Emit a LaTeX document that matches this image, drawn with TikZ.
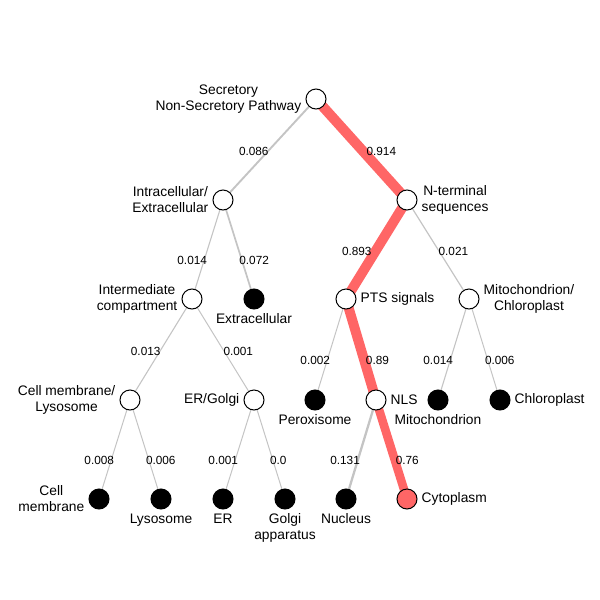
\documentclass[tikz,border=0pt]{standalone}
\usepackage{fontspec}
\setmainfont{Liberation Sans}
\usetikzlibrary{backgrounds}

\definecolor{pathred}{RGB}{255,102,102}
\definecolor{edgegrey}{RGB}{196,196,196}

\tikzset{
  state/.style={circle, draw, line width=1pt, minimum size=20pt, inner sep=0pt, fill=white},
  leaf/.style={state, fill=black},
  hit/.style={state, fill=pathred},
  every label/.style={font=\fontsize{13.8}{16}\selectfont, align=center, inner sep=0pt},
  prob/.style={font=\fontsize{11.8}{14}\selectfont, inner sep=0pt, yshift=-2pt},
  pl/.style={prob, anchor=east},
  pr/.style={prob, anchor=west},
  low/.style={yshift=-9pt},
  weak/.style={draw=edgegrey, line width=#1},
  strong/.style={draw=pathred, line width=#1}
}

\begin{document}
\begin{tikzpicture}[x=1pt, y=-1pt, label distance=4pt]
  \useasboundingbox (0,0) rectangle (600,600);

  \node[state, label=left:{Secretory\\Non-Secretory Pathway}] (root) at (316,99) {};
  \node[state, label=left:{Intracellular/\\Extracellular}] (intra) at (223,200) {};
  \node[state, label=right:{N-terminal\\sequences}] (nterm) at (407,200) {};
  \node[state, label=left:{Intermediate\\compartment}] (inter) at (192,299) {};
  \node[leaf, label=below:Extracellular] (extra) at (254,299) {};
  \node[state, label=right:PTS signals] (pts) at (346,299) {};
  \node[state, label=right:{Mitochondrion/\\Chloroplast}] (mitochl) at (469,299) {};
  \node[state, label=left:{Cell membrane/\\Lysosome}] (cellly) at (130,400) {};
  \node[state, label=left:ER/Golgi] (ergolgi) at (254,400) {};
  \node[leaf, label=below:Peroxisome] (perox) at (315,400) {};
  \node[state, label=right:NLS] (nls) at (376,400) {};
  \node[leaf, label=below:Mitochondrion] (mito) at (438,400) {};
  \node[leaf, label=right:Chloroplast] (chloro) at (500,400) {};
  \node[leaf, label=left:{Cell\\membrane}] (cellm) at (99,499) {};
  \node[leaf, label=below:Lysosome] (lyso) at (161,499) {};
  \node[leaf, label=below:ER] (er) at (223,499) {};
  \node[leaf, label=below:{Golgi\\apparatus}] (golgi) at (285,499) {};
  \node[leaf, label=below:Nucleus] (nucleus) at (346,499) {};
  \node[hit, label=right:Cytoplasm] (cyto) at (407,499) {};

  \begin{scope}[on background layer]
  \path
    (root.center) edge[weak=1.9pt] node[pl] {0.086} (intra.center)
                  edge[strong=10.1pt] node[pr] {0.914} (nterm.center)
    (intra.center) edge[weak=1.1pt] node[pl, low] {0.014} (inter.center)
                   edge[weak=1.7pt] node[pr, low] {0.072} (extra.center)
    (nterm.center) edge[strong=9.9pt] node[pl] {0.893} (pts.center)
                   edge[weak=1.2pt] node[pr] {0.021} (mitochl.center)
    (inter.center) edge[weak=1.1pt] node[pl] {0.013} (cellly.center)
                   edge[weak=1pt] node[pr] {0.001} (ergolgi.center)
    (pts.center) edge[weak=1pt] node[pl, low] {0.002} (perox.center)
                 edge[strong=9.9pt] node[pr, low] {0.89} (nls.center)
    (mitochl.center) edge[weak=1.1pt] node[pl, low] {0.014} (mito.center)
                     edge[weak=1pt] node[pr, low] {0.006} (chloro.center)
    (cellly.center) edge[weak=1pt] node[pl, low] {0.008} (cellm.center)
                    edge[weak=1pt] node[pr, low] {0.006} (lyso.center)
    (ergolgi.center) edge[weak=1pt] node[pl, low] {0.001} (er.center)
                     edge[weak=1pt] node[pr, low] {0.0} (golgi.center)
    (nls.center) edge[weak=2.3pt] node[pl, low] {0.131} (nucleus.center)
                 edge[strong=8.6pt] node[pr, low] {0.76} (cyto.center);
  \end{scope}
\end{tikzpicture}
\end{document}
